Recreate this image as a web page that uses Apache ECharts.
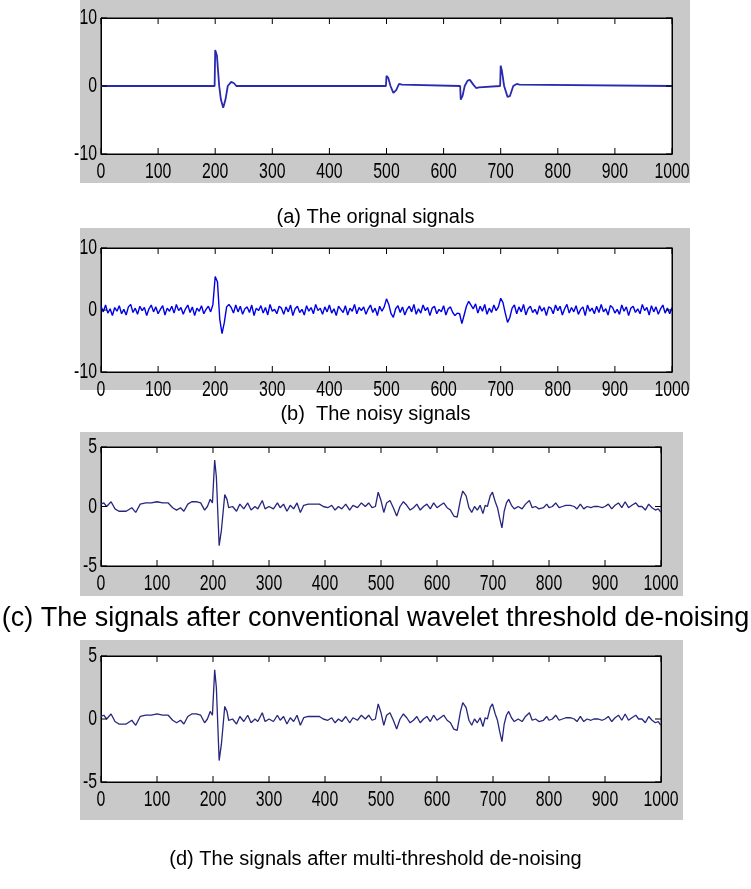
<!DOCTYPE html>
<html>
<head>
<meta charset="utf-8">
<script src="https://cdn.jsdelivr.net/npm/echarts@6/dist/echarts.min.js"></script>
<style>
  html, body { margin: 0; padding: 0; background: #fff; }
  #chart { width: 751px; height: 889px; }
</style>
</head>
<body>
<div id="chart"></div>
<script>
// x ticks shared by all four panels
const xTicks = [0, 100, 200, 300, 400, 500, 600, 700, 800, 900, 1000];
// y ticks: panels (a),(b) and panels (c),(d)
const yTicksWide = [-10, 0, 10];
const yTicksNarrow = [-5, 0, 5];

// (a) original signal, key points
const origX = [0, 199, 200, 203, 207, 210, 214, 218, 222, 228, 233, 237,
  499, 500, 503, 507, 512, 517, 522, 527, 530,
  629, 630, 633, 637, 642, 646, 652, 657, 662, 665,
  699, 700, 702, 706, 712, 716, 722, 728, 733, 735, 1000];
const origY = [0, 0, 5.3, 4.5, 0, -2, -3.2, -2, 0, 0.6, 0.4, 0,
  0, 1.5, 1.2, 0, -1.0, -0.6, 0.3, 0.2, 0,
  0, -2.0, -1.5, 0, 0.8, 0.9, 0.2, -0.3, -0.2, 0,
  0, 3.0, 2.3, 0, -1.6, -1.5, 0, 0.3, 0.2, 0, 0];

// (b) noisy signal, one reading every 4 samples
const noisyStep = 4;
const noisyY = [
  0.6, -0.3, 0.8, -0.5, 0.2, -0.9, 0.4, -0.2, 0.7, -0.6,
  0.1, -0.8, 0.5, 0.9, -0.4, 0.3, -0.7, 0.6, -0.1, 0.4,
  -0.9, 0.2, 0.8, -0.3, 0.5, -0.6, 0.1, 0.7, -0.8, 0.3,
  -0.2, 0.6, -0.5, 0.9, -0.1, 0.4, -0.7, 0.2, 0.8, -0.4,
  0.5, -0.9, 0.3, -0.2, 0.7, -0.6, 0.1, 0.6, -0.3, 0.9,
  5.4, 4.5, -1.5, -3.8, -2.0, 0.5, 0.9, 0.4, -0.5, 0.8,
  -0.3, 0.6, -0.7, 0.2, 0.5, -0.4, 0.8, -0.9, 0.3, -0.1,
  0.7, -0.5, 0.4, -0.8, 0.9, -0.2, 0.1, -0.6, 0.6, 0.3,
  -0.7, 0.5, -0.3, 0.8, -0.9, 0.2, 0.6, -0.4, 0.1, -0.8,
  0.7, -0.2, 0.4, -0.6, 0.9, -0.1, 0.3, -0.7, 0.5, -0.3,
  0.8, -0.5, 0.2, -0.9, 0.6, 0.1, -0.4, 0.7, -0.8, 0.3,
  -0.2, 0.9, -0.6, 0.4, -0.1, 0.5, -0.7, 0.2, 0.8, -0.4,
  0.3, -0.9, 0.6, -0.2, 0.5, 1.8, 0.9, -0.6, -1.2, 0.2,
  0.7, -0.4, 0.5, -0.8, 0.1, 0.6, -0.3, 0.9, -0.7, 0.2,
  -0.5, 0.8, -0.1, 0.4, -0.9, 0.3, 0.6, -0.6, 0.1, -0.3,
  0.7, -0.8, 0.2, 0.5, -0.4, -0.9, -0.5, -0.6, -2.2, -0.8,
  0.6, 1.4, 0.8, 0.2, 1.0, -0.5, 0.6, -0.2, 0.9, -0.7,
  0.3, -0.4, 0.8, -0.1, 0.5, 1.9, 1.2, -0.5, -2.0, -1.2,
  0.3, 0.8, -0.6, 0.5, -0.3, 0.9, -0.8, 0.2, 0.6, -0.4,
  0.1, -0.7, 0.7, -0.2, 0.4, -0.9, 0.5, 0.3, -0.6, 0.8,
  -0.1, 0.6, -0.8, 0.2, 0.9, -0.5, 0.4, -0.3, 0.7, -0.7,
  0.1, 0.5, -0.9, 0.8, -0.2, 0.3, -0.6, 0.6, -0.4, 0.9,
  -0.3, 0.2, -0.8, 0.7, 0.4, -0.5, 0.1, -0.7, 0.8, -0.2,
  0.5, -0.9, 0.3, 0.6, -0.4, 0.2, -0.6, 0.9, -0.1, 0.4,
  -0.8, 0.7, -0.3, 0.5, -0.7, 0.2, 0.8, -0.5, 0.3, -0.6,
  0.4
];

// (c) and (d) de-noised signals (they look the same in the picture)
const denX = [0, 5, 10, 18, 25, 32, 45, 55, 62, 70, 80, 90, 100, 110, 120, 128, 135, 142, 148,
  155, 162, 170, 178, 185, 190, 195, 199, 203, 206, 211, 215, 221, 225, 228, 235, 242, 248,
  255, 262, 268, 275, 280, 288, 293, 300, 308, 315, 320, 326, 332, 338, 344, 350, 356, 362,
  370, 380, 390, 397, 405, 412, 418, 424, 430, 437, 444, 450, 458, 465, 472, 478, 484, 490,
  495, 500, 505, 510, 516, 522, 528, 534, 540, 546, 552, 558, 564, 570, 576, 582, 588, 594,
  600, 606, 612, 618, 624, 630, 636, 642, 646, 652, 657, 662, 667, 672, 677, 682, 686, 690,
  695, 699, 704, 708, 712, 716, 720, 724, 728, 733, 738, 745, 752, 758, 765, 770, 776, 782,
  790, 796, 800, 806, 812, 818, 824, 830, 838, 845, 850, 856, 862, 868, 875, 880, 888, 895,
  900, 906, 912, 918, 924, 930, 936, 942, 948, 955, 960, 966, 972, 978, 984, 990, 995, 1000];
const convY = [0.2, 0.3, 0.0, 0.4, -0.2, -0.4, -0.4, -0.1, -0.5, 0.2, 0.3, 0.3, 0.4, 0.3, 0.3, -0.1, -0.3, -0.1, -0.4,
  0.2, 0.4, 0.4, 0.3, -0.3, 0.0, 0.6, 0.3, 3.9, 2.5, -3.3, -2.0, 1.0, 0.6, -0.1, 0.0, -0.4, 0.2,
  -0.2, 0.3, -0.3, 0.0, -0.2, 0.5, -0.2, 0.0, -0.2, 0.3, -0.1, 0.2, -0.4, 0.1, -0.2, 0.3, -0.5, 0.1,
  0.2, 0.2, 0.2, 0.0, -0.1, 0.1, -0.3, 0.0, -0.2, 0.2, -0.3, 0.1, -0.1, 0.3, 0.0, 0.3, -0.1, 0.0,
  1.2, 0.5, -0.5, 0.3, 0.5, -0.1, -0.8, 0.0, 0.4, 0.1, -0.3, -0.1, 0.2, -0.3, 0.0, 0.2, -0.2, 0.3,
  -0.1, 0.1, 0.3, -0.1, -0.3, -0.8, -0.9, 0.6, 1.3, 0.9, -0.1, -0.5, 0.0, -0.3, 0.1, -0.6, 0.1, 0.0,
  0.9, 1.2, 0.4, -0.1, -1.0, -1.8, -0.4, 0.3, 0.6, 0.1, -0.2, 0.0, -0.2, 0.2, 0.5, -0.1, 0.0, -0.2,
  -0.1, 0.2, -0.1, 0.0, 0.3, -0.1, 0.0, 0.1, 0.1, 0.0, -0.2, 0.2, -0.2, 0.0, -0.1, 0.0, 0.0, -0.1,
  0.0, 0.2, -0.2, 0.1, 0.3, -0.1, 0.4, -0.1, 0.1, 0.3, 0.0, 0.0, -0.3, 0.2, -0.1, -0.3, -0.2, -0.5];
const multiY = convY.slice();

const titles = [
  '(a) The orignal signals',
  '(b)  The noisy signals',
  '(c) The signals after conventional wavelet threshold de-noising',
  '(d) The signals after multi-threshold de-noising'
];

const tickFont = "'Liberation Sans', Arial, sans-serif";
const titleFont = "'Liberation Sans', Arial, sans-serif";
const TICK_LEN = 6;

// panel boxes: plot area + grey frame around it
const panels = [
  { top: 18, height: 136, left: 101, width: 571, grey: [80, 0, 610, 183], yTicks: yTicksWide, color: '#2a2ab0', lw: 1.8, titleY: 202, titleSize: 20 },
  { top: 248, height: 124, left: 101, width: 571, grey: [80, 228, 610, 162], yTicks: yTicksWide, color: '#0000e8', lw: 1.4, titleY: 399, titleSize: 20 },
  { top: 447, height: 119, left: 101, width: 560, grey: [80, 432, 603, 164], yTicks: yTicksNarrow, color: '#26267e', lw: 1.3, titleY: 600, titleSize: 27 },
  { top: 656, height: 126, left: 101, width: 560, grey: [80, 640, 603, 180], yTicks: yTicksNarrow, color: '#26267e', lw: 1.3, titleY: 844, titleSize: 20 }
];

const seriesData = [
  origX.map((x, i) => [x, origY[i]]),
  noisyY.map((v, i) => [i * noisyStep, v]),
  denX.map((x, i) => [x, convY[i]]),
  denX.map((x, i) => [x, multiY[i]])
];

const chart = echarts.init(document.getElementById('chart'), null, { renderer: 'canvas' });

const tickStyle = { stroke: '#000', lineWidth: 1 };

const grid = [], xAxis = [], yAxis = [], series = [], graphic = [], title = [];
panels.forEach((p, k) => {
  const yMin = p.yTicks[0], yMax = p.yTicks[p.yTicks.length - 1];
  graphic.push({
    type: 'rect', z: -10, silent: true,
    shape: { x: p.grey[0], y: p.grey[1], width: p.grey[2], height: p.grey[3] },
    style: { fill: '#c9c9c9' }
  });
  grid.push({
    left: p.left, top: p.top, width: p.width, height: p.height,
    show: true, backgroundColor: '#fff', borderColor: '#000', borderWidth: 1
  });
  const labelStyle = () => ({ color: '#000', fontFamily: tickFont, fontSize: 22 });
  const line = () => ({ show: true, onZero: false, lineStyle: { color: '#000', width: 1 } });
  ['bottom', 'top'].forEach(pos => {
    xAxis.push({
      type: 'value', gridIndex: k, min: 0, max: 1000, interval: 100, position: pos,
      axisLine: line(), axisTick: { show: false }, splitLine: { show: false },
      axisLabel: pos === 'bottom'
        ? Object.assign({ show: true, margin: 7, showMinLabel: true, showMaxLabel: true,
            formatter: v => xTicks.includes(v) ? String(v) : '' }, labelStyle())
        : { show: false }
    });
  });
  ['left', 'right'].forEach(pos => {
    yAxis.push({
      type: 'value', gridIndex: k, min: yMin, max: yMax, interval: yMax, position: pos,
      axisLine: line(), axisTick: { show: false }, splitLine: { show: false },
      axisLabel: pos === 'left' ? Object.assign({ show: true, margin: 4 }, labelStyle()) : { show: false }
    });
  });
  series.push({
    type: 'line', xAxisIndex: k * 2, yAxisIndex: k * 2,
    data: seriesData[k], showSymbol: false, symbol: 'none',
    lineStyle: { color: p.color, width: p.lw }, animation: false
  });
  // MATLAB-style inward ticks on all four sides, placed through the axis scales
  series.push({
    type: 'custom', xAxisIndex: k * 2, yAxisIndex: k * 2, silent: true, clip: false, z: 5,
    data: xTicks.map(v => [v, 0]),
    renderItem: (params, api) => {
      const b = api.coord([api.value(0), yMin]);
      const t = api.coord([api.value(0), yMax]);
      return { type: 'group', children: [
        { type: 'line', shape: { x1: b[0], y1: b[1], x2: b[0], y2: b[1] - TICK_LEN }, style: tickStyle },
        { type: 'line', shape: { x1: t[0], y1: t[1], x2: t[0], y2: t[1] + TICK_LEN }, style: tickStyle }
      ] };
    }
  });
  series.push({
    type: 'custom', xAxisIndex: k * 2, yAxisIndex: k * 2, silent: true, clip: false, z: 5,
    data: p.yTicks.map(v => [0, v]),
    renderItem: (params, api) => {
      const l = api.coord([0, api.value(1)]);
      const r = api.coord([1000, api.value(1)]);
      return { type: 'group', children: [
        { type: 'line', shape: { x1: l[0], y1: l[1], x2: l[0] + TICK_LEN, y2: l[1] }, style: tickStyle },
        { type: 'line', shape: { x1: r[0], y1: r[1], x2: r[0] - TICK_LEN, y2: r[1] }, style: tickStyle }
      ] };
    }
  });
  title.push({
    text: titles[k], left: 'center', top: p.titleY,
    textStyle: { fontFamily: titleFont, fontSize: p.titleSize, fontWeight: 'normal', color: '#000' }
  });
});

chart.setOption({
  animation: false,
  backgroundColor: '#fff',
  title, grid, xAxis, yAxis, series, graphic
});

// MATLAB tick labels are tall and narrow: squeeze the axis labels sideways
const zr = chart.getZr();
zr.storage.getRoots().forEach(root => {
  if (!root.traverse) return;
  root.traverse(el => {
    const t = el.style && el.style.text;
    if (el.type === 'text' && t !== undefined && /^-?\d+$/.test(String(t))) {
      el.scaleX = 0.72;
      el.markRedraw();
    }
  });
});
zr.refreshImmediately();
</script>
</body>
</html>
